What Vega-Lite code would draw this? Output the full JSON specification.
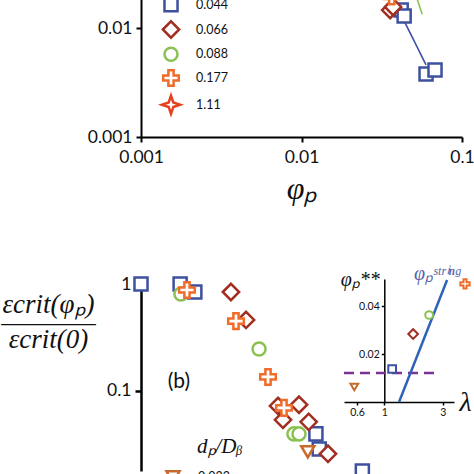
{
  "$schema": "https://vega.github.io/schema/vega-lite/v6.json",
  "autosize": {"type": "pad"},
  "padding": {"top": -25, "left": 0, "right": 0, "bottom": -6},
  "background": "white",
  "bounds": "flush",
  "spacing": 142,
  "config": {
    "view": {"stroke": null},
    "axis": {"grid": false, "domainColor": "#000", "tickColor": "#000", "labelColor": "#111", "labelFont": "Lato", "labelFontSize": 17.5, "titleFont": "Liberation Serif", "titleFontStyle": "italic", "titleFontWeight": "normal", "titleColor": "#111", "labelFlush": false, "labelOverlap": false},
    "legend": {"padding": 0, "labelFont": "Lato", "labelColor": "#111", "symbolFillColor": "white", "symbolOpacity": 1}
  },
  "datasets": {
    "top": [
      {"d": "0.044", "x": 0.0418, "y": 0.0146},
      {"d": "0.044", "x": 0.0436, "y": 0.0129},
      {"d": "0.044", "x": 0.0597, "y": 0.00378},
      {"d": "0.044", "x": 0.0679, "y": 0.00412},
      {"d": "0.066", "x": 0.0357, "y": 0.0146},
      {"d": "0.066", "x": 0.0372, "y": 0.0156},
      {"d": "0.177", "x": 0.0365, "y": 0.0195}
    ],
    "topfit": [
      {"d": "0.044", "x": 0.0342, "y": 0.0238},
      {"d": "0.044", "x": 0.0597, "y": 0.00458},
      {"d": "0.088", "x": 0.0496, "y": 0.0238},
      {"d": "0.088", "x": 0.0565, "y": 0.0134}
    ],
    "main": [
      {"d": "0.044", "x": 0.001, "y": 1},
      {"d": "0.044", "x": 0.00175, "y": 1},
      {"d": "0.044", "x": 0.00216, "y": 0.842},
      {"d": "0.044", "x": 0.0122, "y": 0.0396},
      {"d": "0.044", "x": 0.0128, "y": 0.0286},
      {"d": "0.044", "x": 0.0237, "y": 0.0178},
      {"d": "0.088", "x": 0.00177, "y": 0.806},
      {"d": "0.088", "x": 0.00541, "y": 0.247},
      {"d": "0.088", "x": 0.00891, "y": 0.0396},
      {"d": "0.088", "x": 0.00958, "y": 0.0396},
      {"d": "0.066", "x": 0.00362, "y": 0.842},
      {"d": "0.066", "x": 0.00449, "y": 0.461},
      {"d": "0.066", "x": 0.0071, "y": 0.0723},
      {"d": "0.066", "x": 0.00958, "y": 0.0742},
      {"d": "0.066", "x": 0.00762, "y": 0.0536},
      {"d": "0.066", "x": 0.011, "y": 0.0513},
      {"d": "0.066", "x": 0.0145, "y": 0.0258},
      {"d": "0.177", "x": 0.00193, "y": 0.879},
      {"d": "0.177", "x": 0.00389, "y": 0.45},
      {"d": "0.177", "x": 0.00615, "y": 0.135},
      {"d": "0.177", "x": 0.00773, "y": 0.0694},
      {"d": "0.022", "x": 0.01086, "y": 0.0269}
    ],
    "blabel": [{"x": 0.00172, "y": 0.122, "t": "(b)"}],
    "inset": [
      {"d": "0.022", "x": 0.57, "y": 0.00625},
      {"d": "0.044", "x": 1.16, "y": 0.01375},
      {"d": "0.066", "x": 1.72, "y": 0.0283},
      {"d": "0.088", "x": 2.32, "y": 0.03625},
      {"d": "0.177", "x": 4.55, "y": 0.0492}
    ],
    "string": [
      {"x": 1.32, "y": 0, "t": ""},
      {"x": 3.25, "y": 0.0508, "t": "φₚˢᵗʳⁱⁿᵍ"}
    ],
    "dash": [
      {"x": 0.47, "y": 0.0121},
      {"x": 2.75, "y": 0.0121}
    ]
  },
  "resolve": {"legend": {"color": "independent", "shape": "independent"}},
  "vconcat": [
    {
      "width": 321,
      "height": 152,
      "layer": [
        {
          "data": {"name": "topfit"},
          "transform": [{"filter": "datum.d == '0.044'"}],
          "mark": {"type": "line", "strokeWidth": 1.6, "color": "#3E50A0"},
          "encoding": {
            "x": {"field": "x", "type": "quantitative", "scale": {"type": "log", "domain": [0.001, 0.1], "nice": false},
              "axis": {"values": [0.001, 0.01, 0.1], "format": "~g", "title": "φₚ", "titleFontSize": 32, "titlePadding": 8, "labelPadding": 6, "tickSize": 5, "domainWidth": 2, "tickWidth": 2}},
            "y": {"field": "y", "type": "quantitative", "scale": {"type": "log", "domain": [0.001, 0.02481], "nice": false},
              "axis": {"values": [0.001, 0.01], "format": "~g", "title": null, "labelPadding": 4, "tickSize": 5, "domainWidth": 2, "tickWidth": 2}}
          }
        },
        {
          "data": {"name": "topfit"},
          "transform": [{"filter": "datum.d == '0.088'"}],
          "mark": {"type": "line", "strokeWidth": 1.6, "color": "#8CC152"},
          "encoding": {
            "x": {"field": "x", "type": "quantitative"},
            "y": {"field": "y", "type": "quantitative"}
          }
        },
        {
          "data": {"name": "top"},
          "mark": {"type": "point", "filled": false, "fill": "white", "strokeWidth": 2.5, "size": 170, "opacity": 1},
          "encoding": {
            "x": {"field": "x", "type": "quantitative"},
            "y": {"field": "y", "type": "quantitative"},
            "color": {"field": "d", "type": "nominal",
              "scale": {"domain": ["0.022", "0.044", "0.066", "0.088", "0.177", "1.11"], "range": ["#C76A2E", "#3E50A0", "#A22E22", "#8CC152", "#EF6C2A", "#E5411F"]},
              "legend": {"title": null, "orient": "none", "legendX": 22, "legendY": -10, "symbolSize": 170, "symbolStrokeWidth": 2.5, "labelFontSize": 12.5, "rowPadding": -1.25, "labelOffset": 17}},
            "shape": {"field": "d", "type": "nominal",
              "scale": {"domain": ["0.022", "0.044", "0.066", "0.088", "0.177", "1.11"], "range": ["triangle-down", "square", "M-1.25,0L0,-1.25L1.25,0L0,1.25Z", "circle", "M-0.4,-1.2L0.4,-1.2L0.4,-0.4L1.2,-0.4L1.2,0.4L0.4,0.4L0.4,1.2L-0.4,1.2L-0.4,0.4L-1.2,0.4L-1.2,-0.4L-0.4,-0.4Z", "M0,-1.4L0.35,-0.35L1.4,0L0.35,0.35L0,1.4L-0.35,0.35L-1.4,0L-0.35,-0.35Z"]},
              "legend": {"title": null, "orient": "none", "legendX": 22, "legendY": -10, "symbolSize": 170, "symbolStrokeWidth": 2.5, "labelFontSize": 12.5, "rowPadding": -1.25, "labelOffset": 17}}
          }
        }
      ]
    },
    {
      "hconcat": [
        {
          "width": 195,
          "height": 192,
          "layer": [
            {
              "data": {"name": "main"},
              "mark": {"type": "point", "filled": false, "fill": "white", "strokeWidth": 2.5, "size": 170, "opacity": 1},
              "encoding": {
                "x": {"field": "x", "type": "quantitative", "scale": {"type": "log", "domain": [0.001, 0.01626], "nice": false}, "axis": null},
                "y": {"field": "y", "type": "quantitative", "scale": {"type": "log", "domain": [0.0178, 1.114], "nice": false},
                  "axis": {"values": [0.01, 0.1, 1], "format": "~g", "labelPadding": 4, "tickSize": 6, "domainWidth": 2.5, "tickWidth": 2.5,
                    "title": ["εcrit(φₚ)", "_______", "\u200b", "\u200b", "εcrit(0)"], "titleAngle": 0, "titleFontSize": 27, "titleLineHeight": 8.75, "titleAlign": "center", "titleBaseline": "middle", "titleX": -93, "titleY": 25.5}},
                "color": {"field": "d", "type": "nominal",
                  "legend": {"title": "dₚ/Dᵦ", "titleFont": "Liberation Serif", "titleFontStyle": "italic", "titleFontWeight": "normal", "titleFontSize": 21, "titleColor": "#111", "titleAnchor": "middle", "titleAlign": "left", "titlePadding": 12, "orient": "none", "legendX": 24, "legendY": 157, "symbolSize": 170, "symbolStrokeWidth": 2.5, "labelFontSize": 12.5, "rowPadding": -1.25, "labelOffset": 17}},
                "shape": {"field": "d", "type": "nominal",
                  "legend": {"title": "dₚ/Dᵦ", "titleFont": "Liberation Serif", "titleFontStyle": "italic", "titleFontWeight": "normal", "titleFontSize": 21, "titleColor": "#111", "titleAnchor": "middle", "titleAlign": "left", "titlePadding": 12, "orient": "none", "legendX": 24, "legendY": 157, "symbolSize": 170, "symbolStrokeWidth": 2.5, "labelFontSize": 12.5, "rowPadding": -1.25, "labelOffset": 17}}
              }
            },
            {
              "data": {"name": "blabel"},
              "mark": {"type": "text", "font": "Lato", "fontSize": 21, "color": "#111", "align": "center", "baseline": "middle"},
              "encoding": {
                "x": {"field": "x", "type": "quantitative"},
                "y": {"field": "y", "type": "quantitative"},
                "text": {"field": "t"}
              }
            }
          ]
        },
        {
          "width": 110,
          "height": 123,
          "layer": [
            {
              "data": {"name": "dash"},
              "mark": {"type": "line", "strokeDash": [10, 6], "strokeWidth": 2.5, "color": "#7B3294"},
              "encoding": {
                "x": {"field": "x", "type": "quantitative", "scale": {"type": "log", "domain": [0.47, 3.7], "nice": false},
                  "axis": {"values": [0.6, 1, 3], "format": "~g", "labelFontSize": 10.5, "labelPadding": 2, "tickSize": 3, "domainWidth": 1.5, "tickWidth": 1.5,
                    "title": "λ", "titleFontSize": 28, "titleAngle": 0, "titleAlign": "center", "titleBaseline": "middle", "titleX": 121, "titleY": 0}},
                "y": {"field": "y", "type": "quantitative", "scale": {"domain": [0, 0.05125], "nice": false},
                  "axis": {"values": [0.02, 0.04], "format": ".2f", "offset": -40.3, "labelFontSize": 10.5, "labelPadding": 2, "tickSize": 3, "domainWidth": 1.5, "tickWidth": 1.5,
                    "title": "φₚ**", "titleFontSize": 20, "titleAngle": 0, "titleAlign": "right", "titleBaseline": "middle", "titleX": -5, "titleY": 0}}
              }
            },
            {
              "data": {"name": "string"},
              "mark": {"type": "line", "strokeWidth": 2.5, "color": "#2E64B8"},
              "encoding": {
                "x": {"field": "x", "type": "quantitative"},
                "y": {"field": "y", "type": "quantitative"}
              }
            },
            {
              "data": {"name": "string"},
              "mark": {"type": "text", "font": "Liberation Serif", "fontStyle": "italic", "fontSize": 20, "color": "#5563A8", "align": "center", "baseline": "bottom", "dx": -10, "dy": 4},
              "encoding": {
                "x": {"field": "x", "type": "quantitative"},
                "y": {"field": "y", "type": "quantitative"},
                "text": {"field": "t"}
              }
            },
            {
              "data": {"name": "inset"},
              "mark": {"type": "point", "filled": false, "fill": "white", "strokeWidth": 2, "size": 60, "opacity": 1},
              "encoding": {
                "x": {"field": "x", "type": "quantitative"},
                "y": {"field": "y", "type": "quantitative"},
                "color": {"field": "d", "type": "nominal", "legend": null},
                "shape": {"field": "d", "type": "nominal", "legend": null}
              }
            }
          ]
        }
      ],
      "spacing": 8,
      "bounds": "flush",
      "resolve": {"legend": {"color": "independent", "shape": "independent"}}
    }
  ]
}
